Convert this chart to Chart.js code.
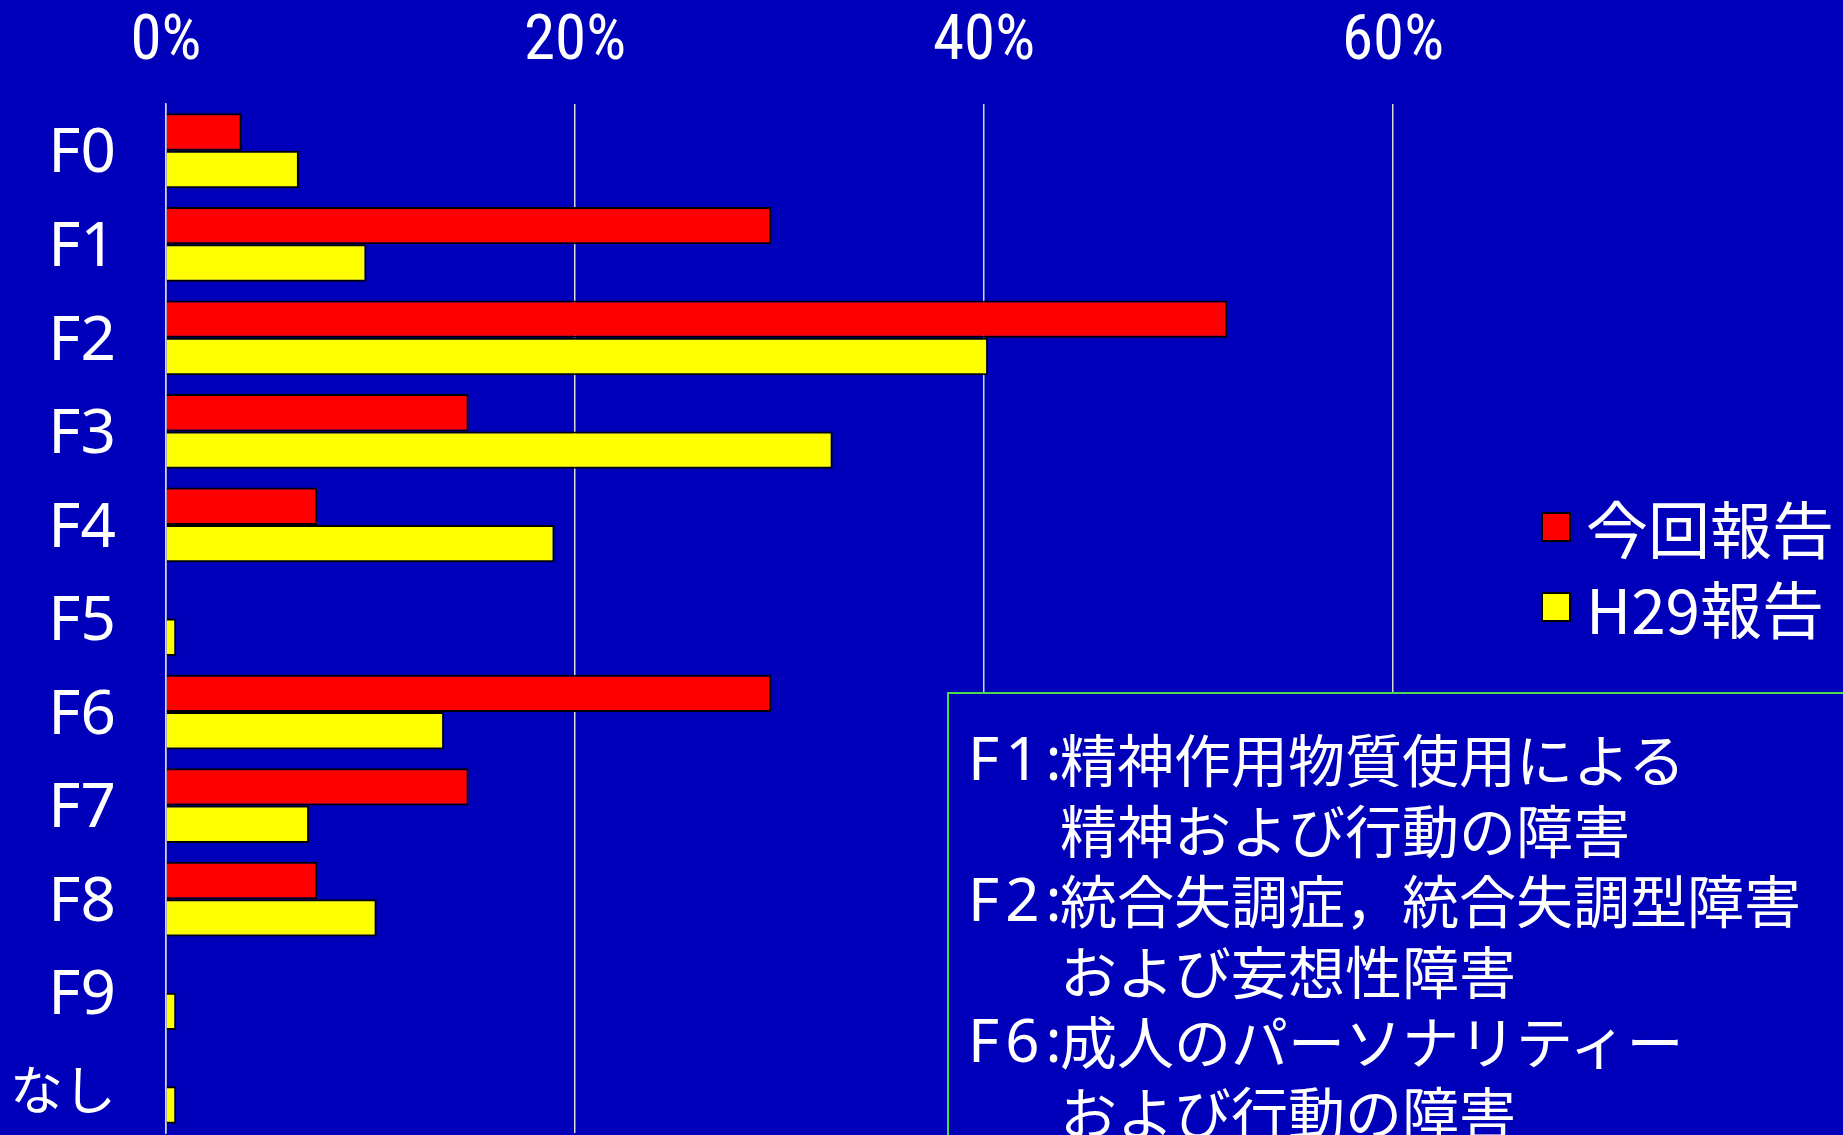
<!DOCTYPE html>
<html>
<head>
<meta charset="utf-8">
<script src="https://cdn.jsdelivr.net/npm/chart.js@4.4.1/dist/chart.umd.min.js"></script>
<style>
  html, body { margin: 0; padding: 0; background: #0000BB; overflow: hidden; }
  #wrap { position: relative; width: 1843px; height: 1135px; }
  canvas { position: absolute; left: 0; top: 0; }
  #legend { position: absolute; left: 1541px; top: 487px; }
  .lg-row { display: flex; align-items: center; height: 80px; font-family: 'Noto Sans CJK JP', sans-serif; font-size: 62px; color: #fff; }
  .lg-box { width: 26px; height: 26px; border: 2px solid #000; margin-right: 15px; }
  #notes { position: absolute; left: 947px; top: 692px; width: 1000px; height: 600px; border: 2px solid #4CD94C; background: #0000BB; padding: 28px 0 0 19px; box-sizing: border-box; }
  .nl { display: flex; height: 70.5px; align-items: center; color: #fff; font-family: 'Noto Sans CJK JP', sans-serif; font-size: 57px; white-space: nowrap; }
  .nl .k { width: 92px; font-family: 'Noto Sans', sans-serif; font-size: 60px; letter-spacing: 6px; }
</style>
</head>
<body>
<div id="wrap">
  <canvas id="c" width="1843" height="1135"></canvas>
  <div id="legend"></div>
  <div id="notes"></div>
</div>
<script>
const categories = ['F0', 'F1', 'F2', 'F3', 'F4', 'F5', 'F6', 'F7', 'F8', 'F9', 'なし'];
const currentReport = [3.7, 29.6, 51.9, 14.8, 7.4, 0, 29.6, 14.8, 7.4, 0, 0];
const h29Report = [6.5, 9.8, 40.2, 32.6, 19.0, 0.5, 13.6, 7.0, 10.3, 0.5, 0.5];
const seriesNames = ['今回報告', 'H29報告'];
const seriesColors = ['#FF0000', '#FFFF00'];
const xTickValues = [0, 20, 40, 60];
const noteKeys = ['F1:', '', 'F2:', '', 'F6:', ''];
const noteTexts = ['精神作用物質使用による', '精神および行動の障害', '統合失調症，統合失調型障害', 'および妄想性障害', '成人のパーソナリティー', 'および行動の障害'];

// pick an installed condensed face for the percent tick labels
function pickNarrow(size) {
  const c = document.createElement('canvas').getContext('2d');
  const s = '20%40%60%0%';
  const m = f => { c.font = f; return c.measureText(s).width; };
  const mono = m(size + 'px monospace');
  const cands = [
    { weight: 'normal', family: "'Liberation Sans Narrow'" },
    { weight: 'normal', family: "'Roboto Condensed'" },
    { weight: 'normal', family: "'Open Sans Condensed'" },
    { weight: 'normal', family: "'DejaVu Sans Condensed'" },
    { weight: 'normal condensed', family: "'Open Sans'" },
    { weight: 'normal condensed', family: "'Noto Sans'" },
    { weight: 'normal condensed', family: 'Roboto' },
    { weight: 'normal condensed', family: "'DejaVu Sans'" }
  ];
  for (const cd of cands) {
    const w = m(cd.weight + ' ' + size + 'px ' + cd.family + ', monospace');
    if (Math.abs(w - mono) < 0.5) continue; // not installed
    if (cd.weight !== 'normal') {
      const plain = m('normal ' + size + 'px ' + cd.family + ', monospace');
      if (w >= plain - 0.5) continue; // stretch not supported
    }
    return { weight: cd.weight, family: cd.family + ", 'Noto Sans', sans-serif", scale: 1 };
  }
  return { weight: 'normal', family: "'Noto Sans', sans-serif", scale: 0.9 };
}
const nf = pickNarrow(63);

const chart = new Chart(document.getElementById('c'), {
  type: 'bar',
  data: {
    labels: categories,
    datasets: [
      { label: seriesNames[0], data: currentReport, backgroundColor: seriesColors[0], borderColor: '#000', borderWidth: 2 },
      { label: seriesNames[1], data: h29Report, backgroundColor: seriesColors[1], borderColor: '#000', borderWidth: 2 }
    ]
  },
  options: {
    indexAxis: 'y',
    responsive: false,
    animation: false,
    devicePixelRatio: 1,
    categoryPercentage: 0.8,
    barPercentage: 1,
    layout: { padding: { right: 41, bottom: 2, top: 0, left: 0 } },
    plugins: { legend: { display: false }, tooltip: { enabled: false } },
    scales: {
      x: {
        position: 'top',
        min: 0,
        max: 80,
        afterBuildTicks: s => { s.ticks = xTickValues.concat([80]).map(v => ({ value: v })); },
        afterFit: s => { s.height = 104; s.paddingLeft = 0; s.paddingRight = 0; },
        ticks: {
          color: '#fff',
          font: { family: nf.family, weight: nf.weight, size: Math.round(63 * nf.scale) },
          padding: 23,
          callback: v => (xTickValues.includes(v) ? v + '%' : '')
        },
        grid: {
          color: ctx => (ctx.tick && xTickValues.includes(ctx.tick.value) ? '#D8D8D8' : 'rgba(0,0,0,0)'),
          lineWidth: 1.5,
          drawTicks: false
        },
        border: { display: false }
      },
      y: {
        afterFit: s => { s.width = 166; s.paddingTop = 0; s.paddingBottom = 0; },
        ticks: {
          color: '#fff',
          font: ctx => (ctx.index === categories.length - 1
            ? { family: "'Noto Sans CJK JP', sans-serif", size: 53 }
            : { family: "'Noto Sans', sans-serif", size: 62 }),
          padding: 50,
          labelOffset: 4
        },
        grid: { display: false, drawTicks: false },
        border: { display: true, color: '#D8D8D8', width: 1.5 }
      }
    }
  }
});

// legend from datasets
const lg = document.getElementById('legend');
chart.data.datasets.forEach(ds => {
  const row = document.createElement('div');
  row.className = 'lg-row';
  const box = document.createElement('div');
  box.className = 'lg-box';
  box.style.background = ds.backgroundColor;
  const t = document.createElement('span');
  t.textContent = ds.label;
  row.appendChild(box); row.appendChild(t);
  lg.appendChild(row);
});

// notes box
const nb = document.getElementById('notes');
noteTexts.forEach((txt, i) => {
  const line = document.createElement('div');
  line.className = 'nl';
  const k = document.createElement('span');
  k.className = 'k';
  k.textContent = noteKeys[i];
  const t = document.createElement('span');
  t.textContent = txt;
  line.appendChild(k); line.appendChild(t);
  nb.appendChild(line);
});
</script>
</body>
</html>
